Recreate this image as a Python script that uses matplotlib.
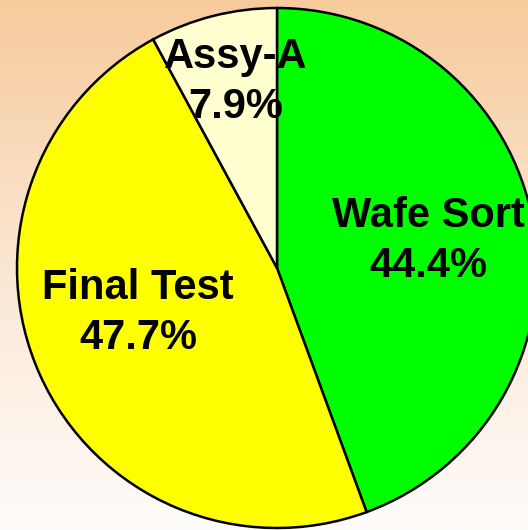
import numpy as np
import matplotlib
matplotlib.use("Agg")
import matplotlib.pyplot as plt
from matplotlib.colors import LinearSegmentedColormap

labels = ["Wafe Sort", "Final Test", "Assy-A"]
values = [44.4, 47.7, 7.9]
colors = ["#00FF00", "#FFFF00", "#FFFFD0"]

W, H = 528, 530
fig = plt.figure(figsize=(W / 100, H / 100), dpi=100)
ax = fig.add_axes([0, 0, 1, 1])

# background gradient (top peach -> bottom near white)
cmap = LinearSegmentedColormap.from_list("bg", ["#FEFCFA", "#FBE6D2", "#F7CB9C"])
grad = np.linspace(0, 1, 256).reshape(-1, 1)
ax.imshow(grad, cmap=cmap, extent=[0, W, 0, H], origin="lower", aspect="auto", zorder=0)

cx, cy, r = 277, H - 268, 260
ax.pie(values, colors=colors, startangle=90, counterclock=False,
       radius=r, center=(cx, cy), frame=True,
       wedgeprops=dict(edgecolor="black", linewidth=1.8))
ax.set_xlim(0, W)
ax.set_ylim(0, H)
ax.set_aspect("auto")
ax.axis("off")

font = dict(family=["Liberation Sans", "DejaVu Sans"], fontweight="bold",
            fontsize=30, ha="center", va="center", color="black", linespacing=1.32)
pos = [(428, H - 241), (138, H - 313), (236, H - 82)]
for lab, v, (x, y) in zip(labels, values, pos):
    ax.text(x, y, f"{lab}\n{v:.1f}%", **font)

fig.savefig("out.png", dpi=100)
